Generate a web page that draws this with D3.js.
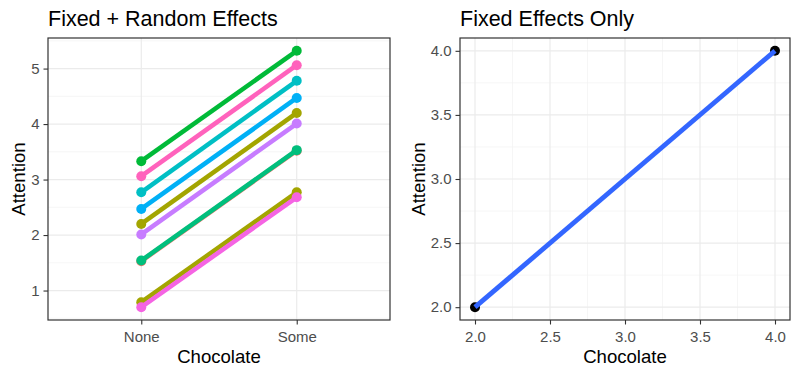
<!DOCTYPE html>
<html>
<head>
<meta charset="utf-8">
<script src="https://cdn.jsdelivr.net/npm/d3@7"></script>
<style>
  body { margin: 0; background: #fff; }
  svg { display: block; font-family: "Liberation Sans", Arial, sans-serif; }
</style>
</head>
<body>
<div id="chart"></div>
<script>
// ======================================
// Data
// ======================================
var conditions = ["None", "Some"];

// random-effects lines: one per participant
var groupColors = ["#F8766D", "#00BF7D", "#A3A500", "#F564E3", "#C77CFF", "#A3A500",
                   "#00B0F6", "#00BFC4", "#FF62BC", "#00BA38"];
var noneValues  = [1.53, 1.54, 0.79, 0.70, 2.01, 2.20, 2.47, 2.77, 3.06, 3.33];
var someValues  = [3.52, 3.53, 2.77, 2.68, 4.01, 4.20, 4.47, 4.78, 5.06, 5.32];

var leftYTicks = [1, 2, 3, 4, 5];

// fixed effects only
var fixedX = [2.0, 4.0];
var fixedY = [2.0, 4.0];
var rightTicks = [2.0, 2.5, 3.0, 3.5, 4.0];

var svgWidth = 800;
var svgHeight = 376;

var svg = d3.select("#chart")
  .append("svg")
  .attr("width", svgWidth)
  .attr("height", svgHeight);

// ======================================
// Helpers
// ======================================
function drawPanel(box, xScale, yScale, xTicks, yTicks, xMinor, yMinor, title, xFmt, yFmt, yTitleOffset) {
  var g = svg.append("g");

  // minor grid
  yMinor.forEach(function(v) {
    g.append("line")
      .attr("x1", box.left).attr("x2", box.right)
      .attr("y1", yScale(v)).attr("y2", yScale(v))
      .attr("stroke", "#F2F2F2").attr("stroke-width", 0.7);
  });
  xMinor.forEach(function(v) {
    g.append("line")
      .attr("y1", box.top).attr("y2", box.bottom)
      .attr("x1", xScale(v)).attr("x2", xScale(v))
      .attr("stroke", "#F2F2F2").attr("stroke-width", 0.7);
  });
  // major grid
  yTicks.forEach(function(v) {
    g.append("line")
      .attr("x1", box.left).attr("x2", box.right)
      .attr("y1", yScale(v)).attr("y2", yScale(v))
      .attr("stroke", "#EBEBEB").attr("stroke-width", 1.2);
  });
  xTicks.forEach(function(v) {
    g.append("line")
      .attr("y1", box.top).attr("y2", box.bottom)
      .attr("x1", xScale(v)).attr("x2", xScale(v))
      .attr("stroke", "#EBEBEB").attr("stroke-width", 1.2);
  });

  // axes
  var bottomAxis = d3.axisBottom(xScale).tickValues(xTicks).tickSize(4.5).tickPadding(6.5).tickFormat(xFmt);
  var leftAxis = d3.axisLeft(yScale).tickValues(yTicks).tickSize(4.5).tickPadding(4).tickFormat(yFmt);

  var xa = g.append("g")
    .attr("transform", `translate(0, ${box.bottom})`)
    .call(bottomAxis);
  var ya = g.append("g")
    .attr("transform", `translate(${box.left}, 0)`)
    .call(leftAxis);

  [xa, ya].forEach(function(a) {
    a.select(".domain").remove();
    a.selectAll(".tick line").attr("stroke", "#333333").attr("stroke-width", 1.1);
    a.selectAll(".tick text").attr("fill", "#4D4D4D").style("font-size", "15px");
  });

  // titles
  g.append("text")
    .attr("x", box.left).attr("y", 26)
    .attr("fill", "#000").style("font-size", "21.5px")
    .text(title);
  g.append("text")
    .attr("x", (box.left + box.right) / 2).attr("y", 363)
    .attr("text-anchor", "middle")
    .attr("fill", "#000").style("font-size", "18.6px")
    .text("Chocolate");
  g.append("text")
    .attr("transform", `translate(${box.left - yTitleOffset}, ${(box.top + box.bottom) / 2}) rotate(-90)`)
    .attr("text-anchor", "middle")
    .attr("fill", "#000").style("font-size", "18.6px")
    .text("Attention");

  return g;
}

function drawBorder(box) {
  svg.append("rect")
    .attr("x", box.left).attr("y", box.top)
    .attr("width", box.right - box.left).attr("height", box.bottom - box.top)
    .attr("fill", "none").attr("stroke", "#333333").attr("stroke-width", 1.2);
}

// ======================================
// Left panel: Fixed + Random Effects
// ======================================
var leftBox = { left: 48, right: 390, top: 38, bottom: 320 };

var allVals = noneValues.concat(someValues);
var yMin = d3.min(allVals), yMax = d3.max(allVals);
var yPad = (yMax - yMin) * 0.05;

// ggplot discrete expansion: 0.6 units each side
var xLeft = d3.scalePoint()
  .domain(conditions)
  .range([leftBox.left, leftBox.right])
  .padding(0.6);

var yLeft = d3.scaleLinear()
  .domain([yMin - yPad, yMax + yPad])
  .range([leftBox.bottom, leftBox.top]);

drawPanel(leftBox, xLeft, yLeft, conditions, leftYTicks, [], [0.5, 1.5, 2.5, 3.5, 4.5, 5.5],
  "Fixed + Random Effects", d => d, d3.format("d"), 23);

var lineGen = d3.line()
  .x(d => xLeft(d.cond))
  .y(d => yLeft(d.value));

groupColors.forEach(function(col, i) {
  var pts = [
    { cond: conditions[0], value: noneValues[i] },
    { cond: conditions[1], value: someValues[i] }
  ];
  var grp = svg.append("g");
  grp.append("path")
    .datum(pts)
    .attr("d", lineGen)
    .attr("fill", "none")
    .attr("stroke", col)
    .attr("stroke-width", 4.6);
  grp.selectAll("circle")
    .data(pts)
    .enter()
    .append("circle")
    .attr("cx", d => xLeft(d.cond))
    .attr("cy", d => yLeft(d.value))
    .attr("r", 5)
    .attr("fill", col);
});
drawBorder(leftBox);

// ======================================
// Right panel: Fixed Effects Only
// ======================================
var rightBox = { left: 460, right: 790, top: 38, bottom: 320 };

var xRight = d3.scaleLinear().domain([1.9, 4.1]).range([rightBox.left, rightBox.right]);
var yRight = d3.scaleLinear().domain([1.9, 4.1]).range([rightBox.bottom, rightBox.top]);

drawPanel(rightBox, xRight, yRight, rightTicks, rightTicks,
  [2.25, 2.75, 3.25, 3.75], [2.25, 2.75, 3.25, 3.75],
  "Fixed Effects Only", d3.format(".1f"), d3.format(".1f"), 35);

var fixedPts = fixedX.map((x, i) => ({ x: x, y: fixedY[i] }));

svg.selectAll(".fixed-pt")
  .data(fixedPts)
  .enter()
  .append("circle")
  .attr("class", "fixed-pt")
  .attr("cx", d => xRight(d.x))
  .attr("cy", d => yRight(d.y))
  .attr("r", 5)
  .attr("fill", "#000");

svg.append("path")
  .datum(fixedPts)
  .attr("d", d3.line().x(d => xRight(d.x)).y(d => yRight(d.y)))
  .attr("fill", "none")
  .attr("stroke", "#3366FF")
  .attr("stroke-width", 4.8);

drawBorder(rightBox);
</script>
</body>
</html>
